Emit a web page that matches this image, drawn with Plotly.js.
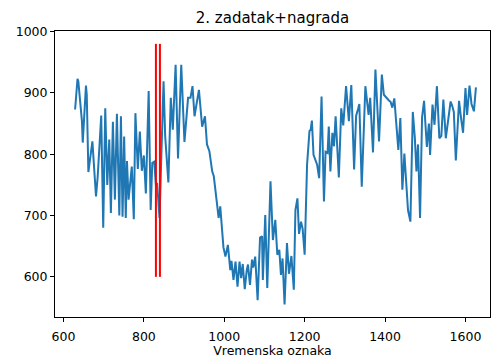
<!DOCTYPE html>
<html>
<head>
<meta charset="utf-8">
<script src="https://cdn.plot.ly/plotly-3.0.1.min.js"></script>
<style>html,body{margin:0;padding:0;background:#fff;}#chart{width:491px;height:358px;}</style>
</head>
<body>
<div id="chart"></div>
<script>
// Time stamps (Vremenska oznaka)
const timeX = [629,635,637,646,648,656,658,662,672,681,685,694,699,704,709,714,718,723,728,733,
  739,743,747,751,755,758,762,766,770,775,779,785,790,795,800,805,812,817,821,826,
  830,833,839,849,853,861,867,872,879,885,893,901,905,910,916,921,926,937,945,952,
  957,963,970,974,986,990,998,1003,1009,1015,1018,1023,1028,1033,1038,1042,1046,1051,1056,1059,
  1064,1069,1072,1077,1083,1089,1094,1096,1102,1107,1115,1121,1127,1132,1137,1141,1145,1150,1156,1161,
  1167,1173,1177,1182,1186,1191,1195,1200,1206,1212,1215,1218,1222,1227,1231,1236,1242,1248,1252,1257,
  1260,1264,1269,1273,1277,1285,1291,1296,1303,1310,1316,1323,1328,1333,1336,1342,1351,1359,1363,1370,
  1376,1385,1392,1397,1403,1409,1414,1418,1423,1428,1433,1438,1443,1448,1452,1457,1463,1469,1474,1478,
  1482,1487,1492,1497,1500,1504,1509,1512,1518,1523,1529,1535,1540,1545,1551,1557,1563,1567,1571,1576,
  1584,1589,1594,1600,1604,1610,1615,1621,1626];
// Measured values
const valueY = [873,923,919,854,819,912,897,771,821,731,762,863,680,875,750,824,704,853,726,866,
  700,862,698,829,696,789,726,753,780,694,867,776,837,773,798,736,903,709,786,788,
  749,753,696,919,830,754,892,840,946,793,946,820,854,892,892,911,862,905,845,862,
  816,805,772,764,696,715,648,633,652,611,626,595,625,584,625,598,621,580,611,620,
  587,628,615,633,562,664,666,595,701,582,756,660,693,636,644,603,630,555,655,605,
  634,579,709,728,670,690,678,636,783,838,840,855,799,791,783,761,894,723,804,802,
  845,772,835,813,862,762,875,847,911,854,913,775,863,874,882,747,911,864,892,803,
  938,821,930,897,892,888,885,876,891,848,807,859,742,801,767,709,690,869,827,772,
  816,696,860,887,853,812,850,799,881,848,911,826,830,889,826,860,886,879,869,790,
  887,859,835,908,864,912,882,870,909];
// Red marker lines
const markerX = [830, 840];
const markerYFrom = 600;
const markerYTo = 980;
// Axis ticks
const xTicks = [600, 800, 1000, 1200, 1400, 1600];
const yTicks = [600, 700, 800, 900, 1000];

const traces = [{
  type: 'scatter', mode: 'lines', x: timeX, y: valueY,
  line: {color: '#1f77b4', width: 2}, hoverinfo: 'skip'
}];
markerX.forEach(function (mx) {
  traces.push({
    type: 'scatter', mode: 'lines', x: [mx, mx], y: [markerYFrom, markerYTo],
    line: {color: '#ff0000', width: 2}, hoverinfo: 'skip'
  });
});

const font = 'DejaVu Sans, sans-serif';
const layout = {
  width: 491, height: 358,
  margin: {l: 55, r: 1, t: 31, b: 41, pad: 0},
  paper_bgcolor: '#ffffff', plot_bgcolor: '#ffffff',
  showlegend: false,
  font: {family: font, size: 12.5, color: '#000'},
  title: {text: '2. zadatak+nagrada', font: {family: font, size: 15, color: '#000'},
          x: 0.5, xref: 'paper', xanchor: 'center', y: 1 - 18 / 358, yref: 'container', yanchor: 'middle'},
  xaxis: {
    range: [579, 1661], tickvals: xTicks, ticktext: xTicks.map(String),
    showgrid: false, zeroline: false, showline: true, mirror: true,
    linecolor: '#000', linewidth: 1, ticks: 'outside', ticklen: 4, tickwidth: 1, tickcolor: '#000',
    ticklabelstandoff: 4,
    tickfont: {family: font, size: 12.5, color: '#000'},
    title: {text: 'Vremenska oznaka', font: {family: font, size: 12.5, color: '#000'}, standoff: 4}
  },
  yaxis: {
    range: [534.5, 1001], tickvals: yTicks, ticktext: yTicks.map(String),
    showgrid: false, zeroline: false, showline: true, mirror: true,
    linecolor: '#000', linewidth: 1, ticks: 'outside', ticklen: 4, tickwidth: 1, tickcolor: '#000',
    tickfont: {family: font, size: 12.5, color: '#000'}
  }
};
Plotly.newPlot('chart', traces, layout, {displayModeBar: false, staticPlot: true});
</script>
</body>
</html>
